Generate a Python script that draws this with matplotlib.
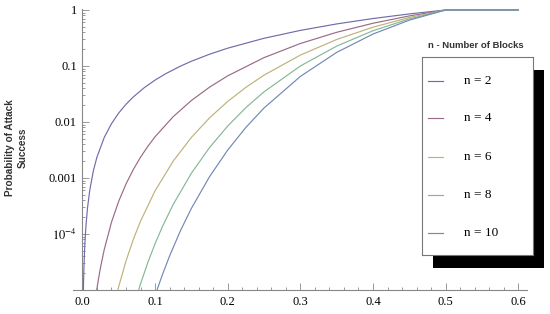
import matplotlib
matplotlib.use('Agg')
import matplotlib.pyplot as plt
import matplotlib.ticker as ticker
from matplotlib.patches import Rectangle

# attacker hash share q and probability of success
q2 = [0.001, 0.0015, 0.002, 0.003, 0.004, 0.005, 0.007, 0.01, 0.015, 0.02, 0.03, 0.04, 0.05, 0.06, 0.07, 0.085, 0.1, 0.115, 0.135, 0.15, 0.175, 0.2, 0.25, 0.3, 0.35, 0.4, 0.45, 0.5, 0.6]
p2 = [6.0e-6, 1.349e-5, 2.4e-5, 5.39e-5, 9.57e-5, 1.495e-4, 2.93e-4, 5.96e-4, 1.34e-3, 2.37e-3, 5.29e-3, 9.34e-3, 0.0145, 0.02074, 0.0280, 0.04089, 0.056, 0.07327, 0.09951, 0.1215, 0.1623, 0.208, 0.3125, 0.432, 0.5635, 0.704, 0.8505, 1.0, 1.0]

q4 = [0.018, 0.02, 0.022, 0.025, 0.03, 0.04, 0.05, 0.06, 0.07, 0.08, 0.09, 0.1, 0.125, 0.15, 0.175, 0.2, 0.25, 0.3, 0.35, 0.4, 0.45, 0.5, 0.6]
p4 = [7.04e-6, 1.067e-5, 1.555e-5, 2.57e-5, 5.27e-5, 1.626e-4, 3.87e-4, 7.83e-4, 1.4145e-3, 2.353e-3, 3.673e-3, 5.456e-3, 0.01248, 0.02421, 0.0419, 0.0667, 0.1411, 0.2521, 0.3997, 0.5796, 0.7834, 1.0, 1.0]

q6 = [0.045, 0.05, 0.06, 0.07, 0.08, 0.1, 0.125, 0.15, 0.175, 0.2, 0.225, 0.25, 0.3, 0.35, 0.4, 0.45, 0.5, 0.6]
p6 = [6.30e-6, 1.160e-5, 3.31e-5, 7.99e-5, 1.700e-4, 5.91e-4, 2.006e-3, 5.31e-3, 0.01186, 0.02331, 0.04158, 0.06866, 0.1565, 0.2974, 0.4930, 0.7338, 1.0, 1.0]

q8 = [0.075, 0.08, 0.09, 0.1, 0.11, 0.125, 0.15, 0.175, 0.2, 0.225, 0.25, 0.3, 0.35, 0.4, 0.45, 0.5, 0.6]
p8 = [7.96e-6, 1.290e-5, 3.097e-5, 6.725e-5, 1.347e-4, 3.378e-4, 1.219e-3, 3.499e-3, 8.480e-3, 0.01804, 0.03460, 0.1000, 0.2265, 0.4263, 0.6930, 1.0, 1.0]

q10 = [0.1, 0.105, 0.11, 0.12, 0.135, 0.15, 0.175, 0.2, 0.225, 0.25, 0.3, 0.35, 0.4, 0.45, 0.5, 0.6]
p10 = [7.86e-6, 1.224e-5, 1.864e-5, 4.064e-5, 1.150e-4, 2.870e-4, 1.058e-3, 3.158e-3, 8.004e-3, 0.01781, 0.06511, 0.1749, 0.3722, 0.6580, 1.0, 1.0]

labels = ['n = 2', 'n = 4', 'n = 6', 'n = 8', 'n = 10']
colors = ['#6e6eaa', '#9a6a88', '#bdb27a', '#84b896', '#7388b4']

xtick_vals = [0.0, 0.1, 0.2, 0.3, 0.4, 0.5, 0.6]
ytick_vals = [1e-5, 1e-4, 1e-3, 1e-2, 1e-1, 1]
ytick_labels = ['', '$10^{-4}$', '0.001', '0.01', '0.1', '1']

plt.rcParams['font.family'] = 'serif'
plt.rcParams['font.serif'] = ['Liberation Serif', 'DejaVu Serif']
plt.rcParams['mathtext.fontset'] = 'stix'

fig = plt.figure(figsize=(5.5, 3.14), dpi=100)
ax = fig.add_axes([73/550, 24/314, 454/550, 281.2/314])

series = [(q2, p2), (q4, p4), (q6, p6), (q8, p8), (q10, p10)]
for (q, p), c in zip(series, colors):
    ax.plot(q, p, color=c, lw=0.85)

ax.set_yscale('log')
ax.set_xlim(-0.013, 0.612)
ax.set_ylim(1e-5, 1.05)

for s in ['top', 'right']:
    ax.spines[s].set_visible(False)
ax.spines['left'].set_position(('data', 0))
for s in ['left', 'bottom']:
    ax.spines[s].set_color('#888888')
    ax.spines[s].set_linewidth(0.8)

ax.xaxis.set_major_locator(ticker.FixedLocator(xtick_vals))
ax.xaxis.set_major_formatter(ticker.FormatStrFormatter('%.1f'))
ax.xaxis.set_minor_locator(ticker.MultipleLocator(0.02))
ax.yaxis.set_major_locator(ticker.FixedLocator(ytick_vals))
ax.yaxis.set_major_formatter(ticker.FixedFormatter(ytick_labels))
ax.yaxis.set_minor_locator(ticker.LogLocator(base=10, subs=range(2, 10), numticks=20))
ax.yaxis.set_minor_formatter(ticker.NullFormatter())

ax.tick_params(which='both', direction='in', color='#888888', labelcolor='black', labelsize=9, width=0.6)
ax.tick_params(which='major', length=5)
ax.tick_params(which='minor', length=2.5)
ax.tick_params(axis='y', pad=4)
ax.tick_params(axis='x', pad=4)

fig.text(16.5/550, 1 - 148/314, 'Probability of Attack\nSuccess', rotation=90,
         ha='center', va='center', multialignment='center', linespacing=1.25,
         fontsize=7.2, fontweight='bold', family='Liberation Sans', color='#333333')

# legend with the hard black drop shadow
shadow = Rectangle((433.3/550, 1 - 268.3/314), 111/550, 198.3/314, transform=fig.transFigure,
                   facecolor='black', edgecolor='none', zorder=2)
fig.add_artist(shadow)

lax = fig.add_axes([421.7/550, 1 - 255/314, 111/550, 198.3/314])
lax.set_zorder(3)
lax.set_xlim(0, 1)
lax.set_ylim(0, 1)
lax.set_xticks([])
lax.set_yticks([])
for s in lax.spines.values():
    s.set_color('#777777')
    s.set_linewidth(0.8)

entry_y = [0.879, 0.689, 0.496, 0.303, 0.109]
for y, c, lab in zip(entry_y, colors, labels):
    lax.plot([0.06, 0.195], [y, y], color=c, lw=0.85)
    lax.text(0.381, y, lab, ha='left', va='center', fontsize=9.5)

fig.text(476/550, 1 - 45/314, 'n - Number of Blocks', ha='center', va='center',
         fontsize=6.8, fontweight='bold', family='Liberation Sans', color='#333333')

fig.savefig('out.png', dpi=100)
